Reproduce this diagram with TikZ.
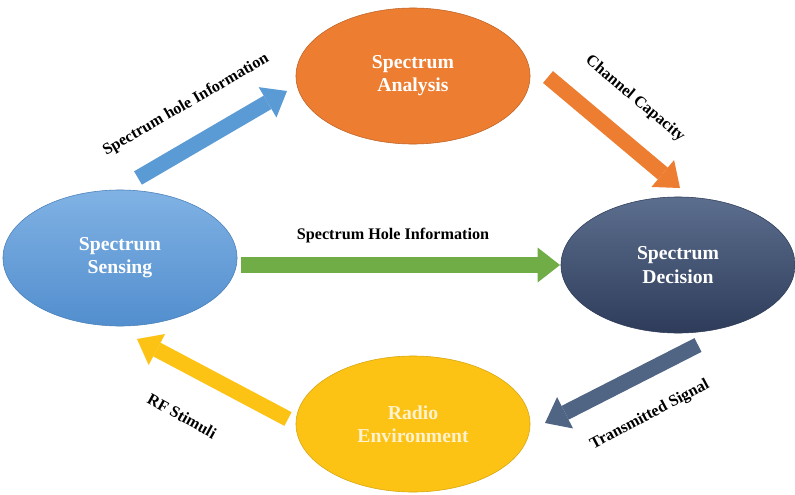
\documentclass[tikz,border=0pt]{standalone}
\usepackage{fontspec}
\setmainfont{Liberation Serif}
\usetikzlibrary{shapes.geometric, arrows.meta}

\definecolor{analysisorange}{RGB}{237,125,49}
\definecolor{sensetop}{RGB}{128,178,228}
\definecolor{sensebottom}{RGB}{82,142,206}
\definecolor{decisiontop}{RGB}{92,110,142}
\definecolor{decisionbottom}{RGB}{46,60,90}
\definecolor{envyellow}{RGB}{252,194,20}
\definecolor{arrowblue}{RGB}{91,155,213}
\definecolor{arrowgreen}{RGB}{112,173,71}
\definecolor{arrownavy}{RGB}{80,100,132}
\definecolor{envtext}{RGB}{255,242,205}

\begin{document}
\begin{tikzpicture}[x=0.025cm, y=-0.025cm,
  stage/.style={ellipse, minimum width=5.85cm, minimum height=3.4cm, inner sep=0pt,
    align=center, font=\fontsize{14}{16.5}\selectfont\bfseries, text=white},
  blockarrow/.style={line width=11pt, -{Triangle[length=16pt, width=25pt, line width=0pt]}},
  flowlabel/.style={font=\fontsize{11.5}{13}\selectfont\bfseries}]
\useasboundingbox (0,0) rectangle (795,494);

% the four stages
\node[stage, fill=analysisorange, draw=analysisorange!80!black, thin] (analysis) at (413,76) {Spectrum\\Analysis};
\node[stage, top color=sensetop, bottom color=sensebottom, draw=sensebottom!90!black, thin] (sensing) at (120,258) {Spectrum\\Sensing};
\node[stage, top color=decisiontop, bottom color=decisionbottom, draw=decisionbottom, thin] (decision) at (678,265) {Spectrum\\Decision};
\node[stage, fill=envyellow, draw=envyellow!85!black, thin, text=envtext] (environment) at (413,424) {Radio\\Environment};

% arrow ends
\coordinate (blue0) at (138,178);
\coordinate (blue1) at (287,91);
\coordinate (orange0) at (548,77);
\coordinate (orange1) at (680,188);
\coordinate (green0) at (241,265);
\coordinate (green1) at (560,265);
\coordinate (navy0) at (698,345);
\coordinate (navy1) at (545,423);
\coordinate (yellow0) at (288,419);
\coordinate (yellow1) at (137,339);

\draw[blockarrow, arrowblue] (blue0) -- (blue1);
\draw[blockarrow, analysisorange] (orange0) -- (orange1);
\draw[blockarrow, arrowgreen] (green0) -- (green1);
\draw[blockarrow, arrownavy] (navy0) -- (navy1);
\draw[blockarrow, envyellow] (yellow0) -- (yellow1);

% labels
\node[flowlabel, rotate=30] (lblhole) at (186,105) {Spectrum hole Information};
\node[flowlabel, rotate=-40] (lblcap) at (635,99) {Channel Capacity};
\node[flowlabel] (lblholeh) at (393,236) {Spectrum Hole Information};
\node[flowlabel, rotate=-29] (lblrf) at (182,416) {RF Stimuli};
\node[flowlabel, rotate=28] (lbltx) at (650,415) {Transmitted Signal};
\end{tikzpicture}
\end{document}
